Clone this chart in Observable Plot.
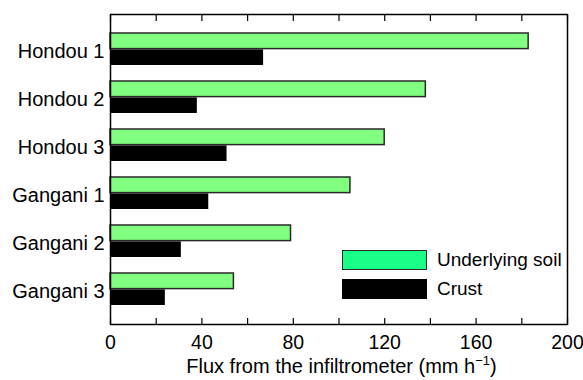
<!DOCTYPE html>
<html>
<head>
<meta charset="utf-8">
<script src="https://cdn.jsdelivr.net/npm/d3@7"></script>
<script src="https://cdn.jsdelivr.net/npm/@observablehq/plot@0.6"></script>
<style>
  html, body { margin: 0; padding: 0; background: #fff; }
  #wrap { position: relative; width: 583px; height: 380px; font-family: "Liberation Sans", Arial, sans-serif; color: #000; }
  #chart svg { display: block; }
  .title { position: absolute; left: 110px; width: 463px; top: 352px; height: 28px; text-align: center; font-size: 20px; line-height: 28px; white-space: nowrap; }
  .title sup { font-size: 13px; vertical-align: 8px; line-height: 0; }
  .legend { position: absolute; left: 342px; top: 250px; font-size: 19px; }
  .legend .row { display: flex; align-items: center; height: 20px; margin-bottom: 9px; }
  .legend .sw { width: 85px; height: 20px; box-sizing: border-box; margin-right: 10px; }
</style>
</head>
<body>
<div id="wrap">
  <div id="chart"></div>
  <div class="legend" id="legend"></div>
  <div class="title">Flux from the infiltrometer (mm h<sup>−1</sup>)</div>
</div>
<script>
// Infiltrometer flux by site, underlying soil vs surface crust (mm/h)
const sites = ["Hondou 1", "Hondou 2", "Hondou 3", "Gangani 1", "Gangani 2", "Gangani 3"];
const soilFlux = [183, 138, 120, 105, 79, 54];
const crustFlux = [67, 38, 51, 43, 31, 24];
const seriesNames = ["Underlying soil", "Crust"];
const xTickLabels = [0, 40, 80, 120, 160, 200];
const xTickMarks = [0, 20, 40, 60, 80, 100, 120, 140, 160, 180, 200];

const rows = sites.map((site, i) => ({site, soil: soilFlux[i], crust: crustFlux[i]}));

const width = 583, height = 352;
const marginTop = 14, marginBottom = 28, marginLeft = 110, marginRight = 16;
const bandPadding = 0.33;
// half of the band width, so the two bars of a site split it top/bottom
const innerH = height - marginTop - marginBottom;
const step = innerH / (sites.length - bandPadding + 2 * bandPadding);
const half = step * (1 - bandPadding) / 2;

const chart = Plot.plot({
  width, height, marginTop, marginBottom, marginLeft, marginRight,
  style: {fontFamily: "'Liberation Sans', Arial, sans-serif", fontSize: "19px", background: "#fff", color: "#000"},
  x: {domain: [0, 200]},
  y: {domain: sites, padding: bandPadding},
  marks: [
    Plot.barX(rows, {y: "site", x: "soil", fill: "#80ff80", stroke: "#2a2a2a", strokeWidth: 1.5, insetBottom: half}),
    Plot.barX(rows, {y: "site", x: "crust", fill: "#000", insetTop: half}),
    Plot.frame({stroke: "#000", strokeWidth: 1.5}),
    Plot.axisX(xTickMarks, {anchor: "bottom", tickSize: -6, tickFormat: () => "", label: null, strokeWidth: 1.2}),
    Plot.axisX(xTickMarks, {anchor: "top", tickSize: -6, tickFormat: () => "", label: null, strokeWidth: 1.2}),
    Plot.axisX(xTickLabels, {anchor: "bottom", tickSize: 0, tickPadding: 11, label: null, fontSize: 19.5}),
    Plot.axisY({anchor: "left", tickSize: 0, tickPadding: 6, label: null, fontSize: 20, dy: 2})
  ]
});
document.getElementById("chart").append(chart);

// legend drawn inside the plot's lower right
const swatches = ["#19ff88", "#000"];
const legend = document.getElementById("legend");
seriesNames.forEach((name, i) => {
  const row = document.createElement("div");
  row.className = "row";
  const sw = document.createElement("div");
  sw.className = "sw";
  sw.style.background = swatches[i];
  if (i === 0) sw.style.border = "1.5px solid #2a2a2a";
  const label = document.createElement("span");
  label.textContent = name;
  row.append(sw, label);
  legend.append(row);
});
</script>
</body>
</html>
